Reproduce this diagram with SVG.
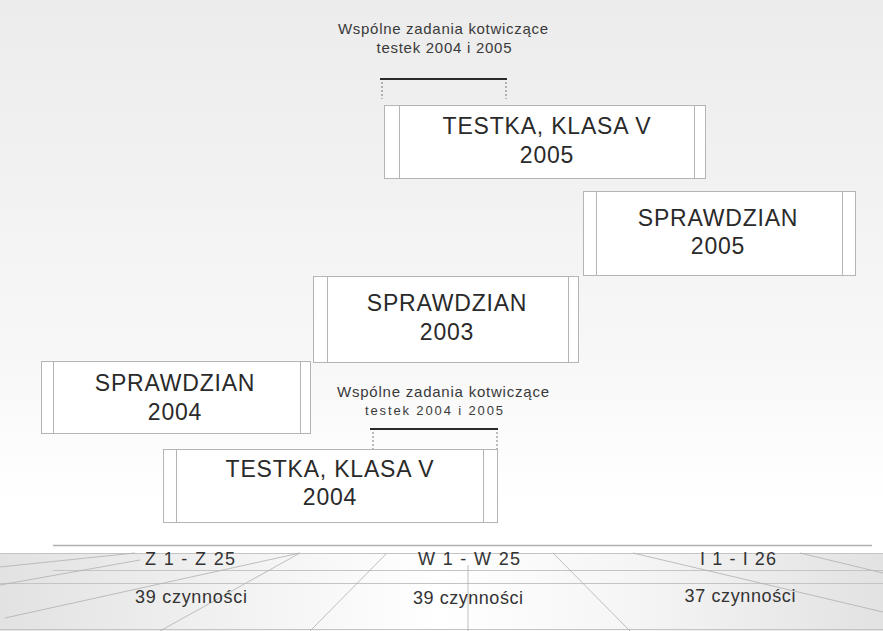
<svg xmlns="http://www.w3.org/2000/svg" width="883" height="631" viewBox="0 0 883 631">
<defs>
  <linearGradient id="bg" x1="0" y1="0" x2="0" y2="1">
    <stop offset="0" stop-color="#ececec"/>
    <stop offset="0.55" stop-color="#f7f7f7"/>
    <stop offset="0.8" stop-color="#ffffff"/>
    <stop offset="1" stop-color="#ffffff"/>
  </linearGradient>
  <linearGradient id="floor" x1="0" y1="0" x2="1" y2="0">
    <stop offset="0" stop-color="#e2e2e2"/>
    <stop offset="0.3" stop-color="#f4f4f4"/>
    <stop offset="0.5" stop-color="#ffffff"/>
    <stop offset="0.72" stop-color="#f5f5f5"/>
    <stop offset="1" stop-color="#e2e2e2"/>
  </linearGradient>
  <style>
    .box { fill: #ffffff; stroke: #b4b4b4; stroke-width: 1; }
    .inner { stroke: #b4b4b4; stroke-width: 1; }
    .big { font-family: "Liberation Sans", Arial, sans-serif; font-size: 23px; fill: #2a2a2a; text-anchor: middle; letter-spacing: 0.8px; }
    .note { font-family: "Liberation Sans", Arial, sans-serif; font-size: 15px; fill: #3a3a3a; text-anchor: middle; }
    .floorText { font-family: "Liberation Sans", Arial, sans-serif; font-size: 18px; fill: #333333; text-anchor: middle; }
    .bar { stroke: #2a2a2a; stroke-width: 2.2; }
    .dash { stroke: #777777; stroke-width: 1; stroke-dasharray: 2 2; }
    .fl { stroke: #c4c4c4; stroke-width: 1; fill: none; }
    .persp { stroke: #b0b0b0; stroke-width: 0.8; fill: none; }
  </style>
</defs>

<rect x="0" y="0" width="883" height="631" fill="url(#bg)"/>

<!-- floor -->
<g id="floor">
  <rect x="0" y="553" width="883" height="78" fill="url(#floor)"/>
  <line class="fl" x1="53" y1="545.5" x2="872" y2="545.5" style="stroke:#b0b0b0;stroke-width:1.6"/>
  <line class="fl" x1="0" y1="553.5" x2="883" y2="553.5"/>
  <line class="fl" x1="53" y1="570.5" x2="883" y2="570.5"/>
  <line class="fl" x1="0" y1="583.5" x2="883" y2="583.5"/>
  <line class="fl" x1="0" y1="629.5" x2="883" y2="629.5"/>
  <line class="persp" x1="0" y1="567" x2="135" y2="553"/>
  <line class="persp" x1="0" y1="585" x2="140" y2="560"/>
  <line class="persp" x1="5" y1="618" x2="300" y2="553"/>
  <line class="persp" x1="160" y1="631" x2="300" y2="553"/>
  <line class="persp" x1="310" y1="631" x2="387" y2="553"/>
  <line class="persp" x1="468" y1="565" x2="468" y2="631"/>
  <line class="persp" x1="553" y1="553" x2="630" y2="631"/>
  <line class="persp" x1="633" y1="553" x2="883" y2="612"/>
  <line class="persp" x1="800" y1="553" x2="883" y2="573"/>
  <text class="floorText" x="190" y="565" textLength="90" lengthAdjust="spacing">Z 1  - Z 25</text>
  <text class="floorText" x="191" y="603" textLength="112" lengthAdjust="spacing">39 czynności</text>
  <text class="floorText" x="469" y="565" textLength="102" lengthAdjust="spacing">W 1  - W 25</text>
  <text class="floorText" x="468" y="604" textLength="110" lengthAdjust="spacing">39 czynności</text>
  <text class="floorText" x="738" y="565" textLength="76" lengthAdjust="spacing">I 1  - I 26</text>
  <text class="floorText" x="740" y="602" textLength="111" lengthAdjust="spacing">37 czynności</text>
</g>

<!-- connectors / brackets -->
<g id="connectors">
  <line class="bar" x1="380" y1="79" x2="507" y2="79"/>
  <line class="dash" x1="382" y1="82" x2="382" y2="99"/>
  <line class="dash" x1="506" y1="82" x2="506" y2="99"/>
  <line class="bar" x1="370" y1="429" x2="498" y2="429"/>
  <line class="dash" x1="373" y1="432" x2="373" y2="449"/>
  <line class="dash" x1="497" y1="432" x2="497" y2="449"/>
</g>

<g id="note-top">
  <text class="note" x="443" y="34" textLength="210" lengthAdjust="spacing">Wspólne zadania kotwiczące</text>
  <text class="note" x="444" y="53" textLength="135" lengthAdjust="spacing">testek 2004 i 2005</text>
</g>

<g id="note-bottom">
  <text class="note" x="443" y="397" textLength="212" lengthAdjust="spacing">Wspólne zadania kotwiczące</text>
  <text class="note" x="434" y="415" textLength="138" lengthAdjust="spacing" style="font-size:13px">testek  2004 i 2005</text>
</g>

<g id="testka-2005">
  <rect class="box" x="384.5" y="105.5" width="321" height="73"/>
  <line class="inner" x1="399.5" y1="105.5" x2="399.5" y2="178.5"/>
  <line class="inner" x1="694.5" y1="105.5" x2="694.5" y2="178.5"/>
  <text class="big" x="547" y="134">TESTKA, KLASA V</text>
  <text class="big" x="547" y="163">2005</text>
</g>

<g id="sprawdzian-2005">
  <rect class="box" x="583.5" y="191.5" width="272" height="84"/>
  <line class="inner" x1="596.5" y1="191.5" x2="596.5" y2="275.5"/>
  <line class="inner" x1="842.5" y1="191.5" x2="842.5" y2="275.5"/>
  <text class="big" x="718" y="226">SPRAWDZIAN</text>
  <text class="big" x="718" y="254">2005</text>
</g>

<g id="sprawdzian-2003">
  <rect class="box" x="313.5" y="276.5" width="265" height="86"/>
  <line class="inner" x1="327.5" y1="276.5" x2="327.5" y2="362.5"/>
  <line class="inner" x1="568.5" y1="276.5" x2="568.5" y2="362.5"/>
  <text class="big" x="447" y="311">SPRAWDZIAN</text>
  <text class="big" x="447" y="340">2003</text>
</g>

<g id="sprawdzian-2004">
  <rect class="box" x="41.5" y="361.5" width="269" height="72"/>
  <line class="inner" x1="53.5" y1="361.5" x2="53.5" y2="433.5"/>
  <line class="inner" x1="300.5" y1="361.5" x2="300.5" y2="433.5"/>
  <text class="big" x="175" y="391">SPRAWDZIAN</text>
  <text class="big" x="175" y="420">2004</text>
</g>

<g id="testka-2004">
  <rect class="box" x="163.5" y="449.5" width="334" height="73"/>
  <line class="inner" x1="176.5" y1="449.5" x2="176.5" y2="522.5"/>
  <line class="inner" x1="483.5" y1="449.5" x2="483.5" y2="522.5"/>
  <text class="big" x="330" y="477">TESTKA, KLASA V</text>
  <text class="big" x="330" y="505">2004</text>
</g>
</svg>
